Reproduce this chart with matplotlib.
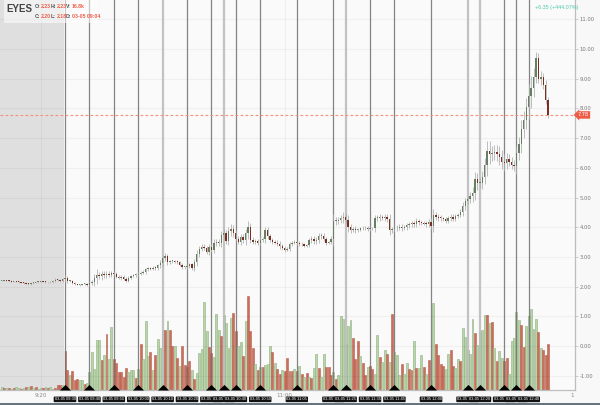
import matplotlib
matplotlib.use("Agg")
import matplotlib.pyplot as plt
from matplotlib.patches import Rectangle
from matplotlib.transforms import blended_transform_factory as blend

minutes = list(range(-26, 199))
closes = [
 2.20,2.21,2.20,2.19,2.17,2.18,2.16,2.15,2.13,2.12,2.10,2.09,2.11,2.13,2.15,2.17,2.18,2.16,2.15,2.14,2.16,2.20,2.24,2.22,2.20,2.25,
 2.30,2.18,2.20,2.12,2.08,2.06,2.07,2.08,2.08,2.07,
 2.12,2.16,2.28,2.40,2.35,2.42,2.38,2.44,2.40,2.46,
 2.44,2.34,2.30,2.33,2.26,2.20,2.30,2.35,2.38,2.40,
 2.44,2.46,2.50,2.58,2.62,2.60,2.64,2.62,2.72,2.78,
 2.95,3.02,2.82,2.85,2.85,2.84,2.82,2.74,2.66,2.66,
 2.68,2.75,2.62,2.82,3.10,3.28,3.34,3.30,3.18,3.34,
 3.25,3.48,3.50,3.46,3.75,3.80,3.55,3.86,3.95,3.80,
 3.62,3.50,3.68,3.56,3.80,4.02,3.58,3.50,3.52,3.48,
 3.58,3.60,3.90,3.70,3.58,3.50,3.48,3.45,3.36,3.30,
 3.25,3.28,3.42,3.48,3.50,3.46,3.44,3.42,3.38,3.40,
 3.56,3.62,3.52,3.58,3.70,3.72,3.60,3.48,3.50,3.62,
 4.20,4.22,4.25,4.30,4.35,4.25,4.00,3.92,3.94,3.90,
 3.92,3.96,3.98,3.96,3.94,3.96,3.96,4.30,4.32,4.34,
 4.32,4.36,4.28,3.90,3.94,3.96,3.98,4.02,3.96,4.00,
 4.06,4.10,4.12,4.10,4.20,4.16,4.14,4.12,4.10,4.18,
 4.05,4.40,4.36,4.32,4.30,4.28,4.22,4.30,4.35,4.28,
 4.38,4.42,4.52,4.70,4.88,4.95,5.05,5.15,5.62,5.48,
 5.50,5.70,6.08,6.55,6.48,6.50,6.52,6.48,6.35,6.20,
 6.15,6.30,6.20,6.10,6.05,6.50,6.80,7.30,7.60,8.05,
 8.42,8.70,9.05,9.70,9.00,9.05,8.80,8.30,7.78,
]
wicks = [
 .02,.02,.02,.02,.02,.02,.02,.02,.02,.02,.02,.02,.02,.02,.02,.02,.02,.02,.02,.02,.02,.04,.04,.03,.03,.05,
 .08,.05,.04,.04,.03,.02,.03,.02,.03,.04,
 .05,.08,.15,.20,.10,.12,.10,.10,.08,.06,
 .06,.05,.05,.06,.05,.05,.06,.05,.04,.05,
 .05,.05,.05,.06,.05,.05,.05,.05,.05,.10,
 .12,.10,.08,.06,.05,.05,.05,.05,.05,.05,
 .05,.05,.06,.10,.12,.10,.08,.08,.08,.10,
 .10,.12,.10,.10,.12,.15,.10,.15,.15,.12,
 .10,.08,.10,.08,.15,.20,.12,.08,.08,.08,
 .08,.08,.12,.10,.08,.06,.06,.08,.08,.08,
 .08,.06,.08,.06,.06,.05,.06,.06,.06,.05,
 .08,.10,.08,.08,.10,.08,.08,.08,.05,.08,
 .25,.12,.10,.12,.15,.12,.15,.10,.08,.10,
 .06,.06,.05,.06,.08,.06,.05,.12,.10,.10,
 .08,.10,.10,.15,.08,.06,.08,.08,.08,.06,
 .08,.08,.08,.08,.10,.08,.06,.06,.08,.10,
 .12,.20,.12,.10,.08,.06,.08,.08,.10,.08,
 .06,.06,.08,.15,.12,.10,.12,.20,.25,.22,
 .15,.20,.25,.35,.35,.25,.25,.25,.25,.25,
 .25,.20,.15,.15,.15,.25,.25,.30,.30,.30,
 .40,.40,.30,.20,.15,.20,.15,.15,.10,
]
# positive: green bar, negative: red bar
volumes_premarket = [3,-2,2,-2,1,-2,3,2,-1,2,-3,3,-4,2,-3,1,2,-2,3,-2,3,1,-2,-5,-5,5]
volumes_open = [
 -39,-20,15,-19,-10,-11,10,10,-6,7,18,38,21,50,50,-30,35,-56,31,63,-31,-27,-18,-18,-13,-22,18,20,20,-12,21,-46,31,69,34,-38,20,-35,51,42,60,-60,69,-60,-44,44,-32,24,-44,-25,-23,-29,20,-11,17,37,
]
volumes_mid = [
 41,88,59,-43,-37,33,76,60,-54,75,67,42,72,-77,-59,44,48,-34,69,-94,-59,-42,26,-20,23,-23,25,26,44,-38,27,-21,-16,20,-19,-32,-19,-19,21,-19,24,-16,13,-17,13,-12,22,36,-22,13,36,-23,-23,-15,18,-11,15,74,71,46,64,70,-52,-31,-49,34,-27,-15,23,-24,-21,16,55,-33,28,40,-36,28,-76,38,35,15,
]
volumes_late = [
 -26,16,27,-21,-20,49,-22,22,35,-23,16,-30,10,87,-46,-35,-26,-24,21,36,-40,-24,22,31,-29,62,53,40,36,71,-57,45,58,60,75,-75,67,-68,42,-29,39,32,-29,-32,16,49,52,78,70,-65,-43,64,74,81,61,71,-58,42,-40,-35,-46,
]
volumes = volumes_premarket + volumes_open + volumes_mid + volumes_late
time_labels = ["03-05 09:30","03-05 09:40","03-05 09:50","03-05 10:00","03-05 10:10","03-05 10:20","03-05 10:30",
               "03-05 10:35","03-05 10:40","03-05 10:50","03-05 11:05","03-05 11:20","03-05 11:25","03-05 11:35",
               "03-05 11:45","03-05 12:00","03-05 12:15","03-05 12:20","03-05 12:30","03-05 12:35","03-05 12:40"]
time_minutes = [0,10,20,30,40,50,60,65,70,80,95,110,115,125,135,150,165,170,180,185,190]
heavy_lines = [40,65,115,165,170]
y_ticks = list(range(-1, 12))
x_ticks = [-10, 90, 208]
x_tick_labels = ["9:20", "11:00", "1"]
last_price = 7.78

n = min(len(minutes), len(closes), len(wicks), len(volumes))
minutes, closes, wicks, volumes = minutes[-n:], closes[-n:], wicks[-n:], volumes[-n:]
opens = [closes[0]] + closes[:-1]

fig = plt.figure(figsize=(6, 4.05), dpi=100, facecolor="#f8f8f8")
ax = fig.add_axes([0, 15/405, 575/600, 390/405])
ax.set_facecolor("#fafafa")
ax.set_xlim(-26.64, 209)
ax.set_ylim(0, 390)
ax.yaxis.set_visible(False)
ax.add_patch(Rectangle((-26.64, 0), 26.3, 390, color="#dfdfdf", lw=0, zorder=0))
fills = ["#b8d5aa" if v > 0 else "#c8705c" for v in volumes]
edges = ["#8fb080" if v > 0 else "#b85f4c" for v in volumes]
ax.bar(minutes, [abs(v) for v in volumes], width=0.8, color=fills, edgecolor=edges, linewidth=0.4, zorder=2)

pr = ax.twinx()
pr.set_xlim(ax.get_xlim())
pr.set_ylim(-1.48, 11.65)
pr.patch.set_visible(False)
pr.set_yticks(y_ticks)
pr.set_yticklabels([f"{v:.2f}" for v in y_ticks], fontsize=3.8, color="#777777")
pr.yaxis.set_ticks_position("right")
pr.tick_params(axis="y", length=2, width=0.5, color="#bbbbbb", pad=1.5)
pr.grid(axis="y", color="black", alpha=0.04, lw=0.8)
ax.set_xticks(x_ticks)
ax.set_xticklabels(x_tick_labels, fontsize=4, color="#888888")
ax.tick_params(axis="x", length=0, pad=2)
for xt in x_ticks[:2]:
    pr.axvline(xt, color="black", alpha=0.04, lw=0.8, zorder=1)
for a in (ax, pr):
    for s in ("top", "left"):
        a.spines[s].set_visible(False)
    for s in ("right", "bottom"):
        a.spines[s].set_color("#bdbdbd")
        a.spines[s].set_linewidth(0.8)

# vertical event lines
for m in time_minutes:
    heavy = m in heavy_lines
    pr.axvline(m, color="#bcbcbc" if heavy else "#707070", lw=1.6 if heavy else 0.9,
               alpha=0.9 if heavy else 0.85, zorder=3)
pr.axvline(-0.3, color="#ffffff", lw=0.6, zorder=2.5)

# candles
for m, o, c, w in zip(minutes, opens, closes, wicks):
    hi, lo = max(o, c) + w, min(o, c) - w
    col = "#667f62" if c >= o else "#7a2f22"
    pr.plot([m, m], [lo, hi], color="#adadad", lw=0.55, zorder=4, solid_capstyle="butt")
    pr.bar(m, max(abs(c - o), 0.03), bottom=min(o, c), width=0.55, color=col, lw=0, zorder=5)

# last price
pr.axhline(last_price, color="#f58f7c", lw=0.8, ls=(0, (2.5, 2)), zorder=3)
pr.annotate(f"{last_price:.2f}", xy=(1.0, last_price), xycoords=pr.get_yaxis_transform(),
            xytext=(2, 0), textcoords="offset points", fontsize=3.6, color="white", va="center", ha="left",
            bbox=dict(boxstyle="larrow,pad=0.25", fc="#ee5c48", ec="none"), zorder=10, annotation_clip=False)

# time markers
tr = blend(pr.transData, pr.transAxes)
tri = [(-1, 0), (1, 0), (0, 1), (-1, 0)]
for m, lab in zip(time_minutes, time_labels):
    pr.plot([m], [0.0], marker=tri, ms=8, color="black", mew=0, transform=tr, zorder=8, clip_on=False)
    pr.text(m, -0.024, lab, transform=tr, fontsize=2.9, color="white", ha="center", va="center", zorder=9,
            family="Liberation Sans", bbox=dict(boxstyle="round,pad=0.2", fc="#111111", ec="none"), clip_on=False)

# header
fig.patches.append(Rectangle((4/600, 1-23/405), 93/600, 23/405, transform=fig.transFigure,
                             fc="white", alpha=0.55, ec="none", zorder=20))
def ft(x, y, s, **kw):
    fig.text(x/600, 1-y/405, s, va="center", ha="left", zorder=21, family="Liberation Sans", **kw)
ft(6, 9.5, "EYES", fontsize=7, fontweight="bold", color="#444444")
red = "#ee5c48"; grey = "#555555"
for x, y, lab, val, vx in [(35, 7, "O:", "2.23", 41), (51, 7, "H:", "2.23", 57), (66, 7, "V:", "16.8k", 72),
                           (35, 16, "C:", "2.20", 41), (51, 16, "L:", "2.18", 57), (66, 16, "D:", "03-05 09:04", 72)]:
    ft(x, y, lab, fontsize=3.7, fontweight="bold", color=grey)
    ft(vx, y, val, fontsize=3.7, fontweight="bold", color=red)
ft(535, 7, "+6.35 (+444.07%)", fontsize=3.9, color="#4fc9ad")
fig.add_artist(plt.Line2D([0, 1], [0.002, 0.002], color="#4a5a66", lw=1.2))
fig.savefig("out.png", dpi=100, facecolor=fig.get_facecolor())
